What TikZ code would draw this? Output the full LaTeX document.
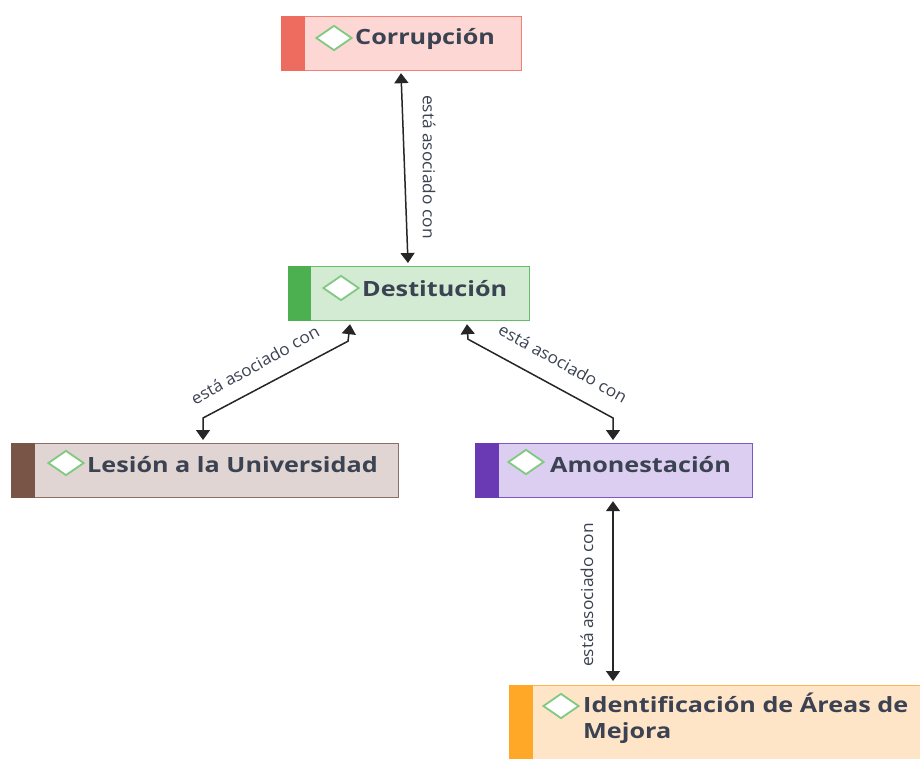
\documentclass[tikz,border=0pt]{standalone}
\usepackage{fontspec}
\setmainfont{Open Sans}
\newfontfamily\boxfont[FakeStretch=1.2]{Open Sans}
\newfontfamily\relfont[FakeStretch=1.05]{Open Sans}
\usetikzlibrary{arrows.meta,calc,shapes.geometric}
\definecolor{txt}{HTML}{3B4252}
\definecolor{corrS}{HTML}{EE6B60}\definecolor{corrF}{HTML}{FCD7D4}\definecolor{corrL}{HTML}{F08078}
\definecolor{destS}{HTML}{4CAF50}\definecolor{destF}{HTML}{D3EBD3}\definecolor{destL}{HTML}{66BB6A}
\definecolor{lesS}{HTML}{795548}\definecolor{lesF}{HTML}{E0D5D2}\definecolor{lesL}{HTML}{8D6E63}
\definecolor{amonS}{HTML}{6A3AB5}\definecolor{amonF}{HTML}{DCCEF0}\definecolor{amonL}{HTML}{7E57C2}
\definecolor{idenS}{HTML}{FFA726}\definecolor{idenF}{HTML}{FFE5C8}\definecolor{idenL}{HTML}{FFB74D}
\definecolor{diamL}{HTML}{80C980}
\begin{document}
\begin{tikzpicture}[x=1pt,y=-1pt,
  box/.style={draw=#1L, fill=#1F, line width=1.2pt, anchor=north west, inner sep=0pt, minimum height=54pt},
  diam/.style={diamond, draw=diamL, fill=white, line width=1.8pt, inner sep=0pt, minimum width=36pt, minimum height=25pt},
  title/.style={anchor=west, inner sep=0pt, text=txt, font=\boxfont\bfseries\fontsize{21}{26}\selectfont},
  conn/.style={draw=black!85, line width=1.5pt, {Triangle[width=14pt,length=10pt]}-{Triangle[width=14pt,length=10pt]}},
  rel/.style={inner sep=0pt, text=txt, font=\relfont\fontsize{16.5}{18}\selectfont}]
\useasboundingbox (0,0) rectangle (920,758);
\clip (0,0) rectangle (920,758);
\fill[white] (0,0) rectangle (920,758);
% boxes
\node[box=corr, minimum width=240pt] (corr) at (281,16) {};
\fill[corrS] (corr.north west) rectangle ($(corr.south west)+(24,0)$);
\node[box=dest, minimum width=241pt] (dest) at (288,266) {};
\fill[destS] (dest.north west) rectangle ($(dest.south west)+(23,0)$);
\node[box=les, minimum width=387pt] (les) at (11,443) {};
\fill[lesS] (les.north west) rectangle ($(les.south west)+(24,0)$);
\node[box=amon, minimum width=277pt] (amon) at (475,443) {};
\fill[amonS] (amon.north west) rectangle ($(amon.south west)+(24,0)$);
\node[box=iden, minimum width=440pt, minimum height=90pt] (iden) at (509,685) {};
\fill[idenS] (iden.north west) rectangle ($(iden.south west)+(24,0)$);
% diamonds and titles
\node[diam] (corrd) at (334,38) {};
\node[title] (corrt) at (355,39) {Corrupción};
\node[diam] (destd) at (341,288) {};
\node[title] (destt) at (362,289) {Destitución};
\node[diam] (lesd) at (66,463) {};
\node[title] (lest) at (87,465) {Lesión a la Universidad};
\node[diam] (amond) at (526,462) {};
\node[title] (amont) at (550,465) {Amonestación};
\node[diam] (idend) at (561,706) {};
\node[title, align=left, anchor=north west] (ident) at (583,693) {Identificación de Áreas de\\Mejora};
% connectors
\draw[conn] ($(corr.south west)+(120,2)$) -- ($(dest.north west)+(120,-3)$);
\draw[conn] ($(dest.south west)+(62,3)$) -- ++(-2,17) -- ($(les.north west)+(192,-25)$) -- ($(les.north west)+(192,-3)$);
\draw[conn] ($(dest.south west)+(179,3)$) -- ++(1,15) -- ($(amon.north west)+(138,-25)$) -- ($(amon.north west)+(138,-3)$);
\draw[conn] ($(amon.south west)+(138,3)$) -- ($(iden.north west)+(104,-4)$);
% relation labels
\node[rel, rotate=-90] (r1) at (429,167) {está asociado con};
\node[rel, rotate=29] (r2) at (255,365) {está asociado con};
\node[rel, rotate=-29] (r3) at (563,363) {está asociado con};
\node[rel, rotate=90] (r4) at (587,595) {está asociado con};
\end{tikzpicture}
\end{document}
